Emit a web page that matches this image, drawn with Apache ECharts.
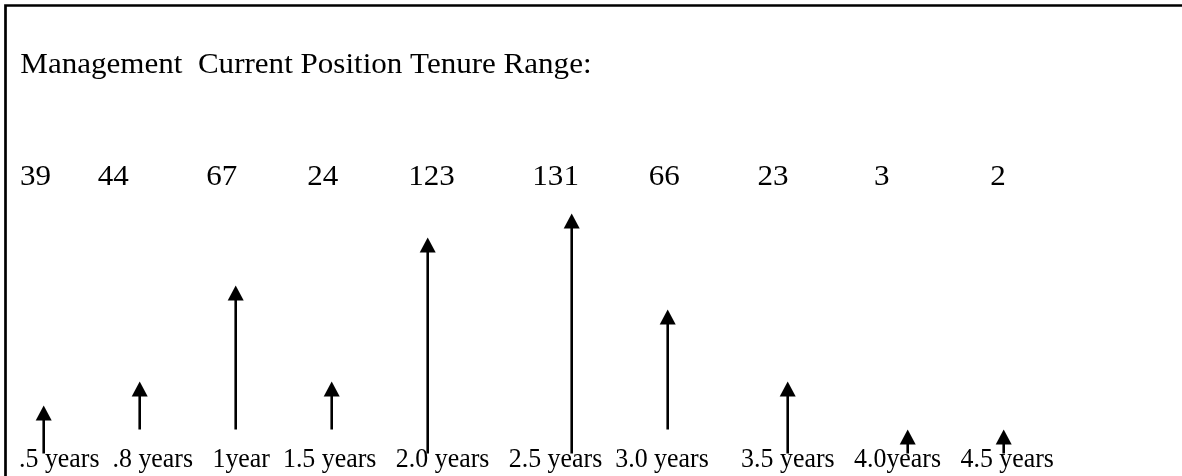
<!DOCTYPE html>
<html>
<head>
<meta charset="utf-8">
<title>Management Current Position Tenure Range</title>
<script src="https://cdn.jsdelivr.net/npm/echarts@6/dist/echarts.min.js"></script>
<style>
html,body{margin:0;padding:0;background:#fff;}
#chart{width:1182px;height:476px;}
</style>
</head>
<body>
<div id="chart"></div>
<script>
// title line
const title = 'Management  Current Position Tenure Range:'
// tenure categories
const years = ['.5 years', '.8 years', '1year', '1.5 years', '2.0 years', '2.5 years', '3.0 years', '3.5 years', '4.0years', '4.5 years']
// head count per category
const counts = [39, 44, 67, 24, 123, 131, 66, 23, 3, 2]
// arrows as drawn on the 1/4 inch drawing grid: column, start row, tip row
const arrowCol = [0, 4, 8, 12, 16, 22, 26, 31, 36, 40]
const arrowBase = [-1, 0, 0, 0, -1, -1, 0, -1, -1, -1]
const arrowTip = [1, 2, 6, 2, 8, 9, 5, 2, 0, 0]
// spaces typed between the items of each text row
const countGaps = [6, 10, 9, 9, 10, 9, 10, 11, 13]
const yearGaps = [2, 3, 2, 3, 3, 2, 5, 3, 3]

function joinRow(items, gaps){
    let s = String(items[0])
    for (let i = 1; i < items.length; i++) {
        s += ' '.repeat(gaps[i - 1]) + items[i]
    }
    return s
}

function textLine(str, x, y, size, sx){
    return {
        type: 'text',
        x: x,
        y: y,
        scaleX: sx,
        silent: true,
        style: {
            text: str,
            fontSize: size,
            fontFamily: 'Liberation Serif',
            fill: '#000',
            verticalAlign: 'middle'
        }
    }
}

// 箭头
function renderArrow(params, api){
    let base = api.coord([api.value(0), api.value(1)])
    let tip = api.coord([api.value(0), api.value(2)])
    let hw = 8, hh = 15
    return {
        type: 'group',
        children: [
            {
                type: 'line',
                shape: {x1: base[0], y1: base[1], x2: tip[0], y2: tip[1] + hh - 1},
                style: {stroke: '#000', lineWidth: 2.6}
            },
            {
                type: 'polygon',
                shape: {points: [[tip[0], tip[1]], [tip[0] - hw, tip[1] + hh], [tip[0] + hw, tip[1] + hh]]},
                style: {fill: '#000'}
            }
        ]
    }
}

let myChart = echarts.init(document.getElementById('chart'))
let option = {
    animation: false,
    backgroundColor: '#fff',
    grid: {
        left: 19.7,
        top: 213.5,
        width: 1008,
        height: 240
    },
    xAxis: {
        type: 'value',
        min: -1,
        max: 41,
        show: false
    },
    yAxis: {
        type: 'value',
        min: -1,
        max: 9,
        show: false
    },
    graphic: [
        {
            type: 'rect',
            silent: true,
            shape: {x: 5.5, y: 5.5, width: 2400, height: 2400},
            style: {fill: 'none', stroke: '#000', lineWidth: 2.7}
        },
        textLine(title, 20.3, 65.5, 30, 1.035),
        textLine(joinRow(counts, countGaps), 20, 177.2, 30, 1.035),
        textLine(joinRow(years, yearGaps), 19, 459.2, 28, 0.925)
    ],
    series: [
        {
            name: 'tenure',
            type: 'custom',
            clip: false,
            renderItem: renderArrow,
            data: arrowCol.map((c, i) => [c, arrowBase[i], arrowTip[i]])
        }
    ]
}
myChart.setOption(option)
</script>
</body>
</html>
